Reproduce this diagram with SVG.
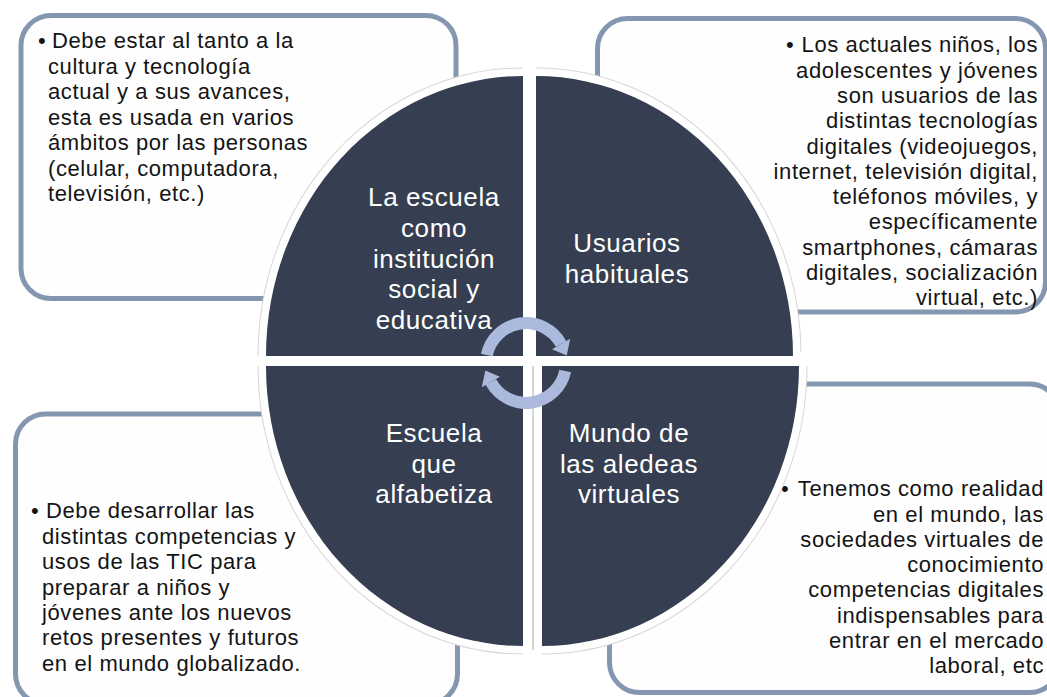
<svg xmlns="http://www.w3.org/2000/svg" width="1047" height="697" viewBox="0 0 1047 697">
<style>
.box{fill:#fefefe;stroke:#8597b0;stroke-width:5}
.halo-edge{fill:none;stroke:#d6d6d6;stroke-width:17}
.halo{fill:none;stroke:#ffffff;stroke-width:15}
.quad{fill:#353f51}
.body{font-family:"Liberation Sans",Arial,sans-serif;font-size:22px;letter-spacing:0.6px;fill:#141414}
.lbl{font-family:"Liberation Sans",Arial,sans-serif;font-size:26px;letter-spacing:0.6px;fill:#ffffff;text-anchor:middle}
.arc{fill:none;stroke:#abb9dd;stroke-width:12}
.head{fill:#abb9dd}
</style>
<rect width="1047" height="697" fill="#ffffff"/>

<g id="box-tl">
<rect class="box" x="21" y="15.5" width="435" height="283" rx="30"/>
<text class="body"><tspan x="38" y="48">•</tspan><tspan x="52" y="48">Debe estar al tanto a la</tspan><tspan x="48" y="73.5">cultura y tecnología</tspan><tspan x="48" y="99">actual y a sus avances,</tspan><tspan x="48" y="124.5">esta es usada en varios</tspan><tspan x="48" y="150">ámbitos por las personas</tspan><tspan x="48" y="175.5">(celular, computadora,</tspan><tspan x="48" y="201">televisión, etc.)</tspan></text>
</g>

<g id="box-tr">
<rect class="box" x="597.5" y="18.5" width="448" height="293.5" rx="30"/>
<text class="body"><tspan x="786" y="52">•</tspan></text>
<text class="body" text-anchor="end"><tspan x="1038" y="52">Los actuales niños, los</tspan><tspan x="1038" y="77.5">adolescentes y jóvenes</tspan><tspan x="1038" y="103">son usuarios de las</tspan><tspan x="1038" y="128">distintas tecnologías</tspan><tspan x="1038" y="153.5">digitales (videojuegos,</tspan><tspan x="1038" y="178.5">internet, televisión digital,</tspan><tspan x="1038" y="204">teléfonos móviles, y</tspan><tspan x="1038" y="229">específicamente</tspan><tspan x="1038" y="254.5">smartphones, cámaras</tspan><tspan x="1038" y="280">digitales, socialización</tspan><tspan x="1038" y="305">virtual, etc.)</tspan></text>
</g>

<g id="box-bl">
<rect class="box" x="15.5" y="414" width="442" height="290" rx="30"/>
<text class="body"><tspan x="31" y="518">•</tspan><tspan x="46" y="518">Debe desarrollar las</tspan><tspan x="42" y="543.5">distintas competencias y</tspan><tspan x="42" y="569">usos de las TIC para</tspan><tspan x="42" y="594.5">preparar a niños y</tspan><tspan x="42" y="620">jóvenes ante los nuevos</tspan><tspan x="42" y="645">retos presentes y futuros</tspan><tspan x="42" y="670.5">en el mundo globalizado.</tspan></text>
</g>

<g id="box-br">
<rect class="box" x="609.5" y="384" width="450" height="308.5" rx="30"/>
<text class="body"><tspan x="781" y="496">•</tspan></text>
<text class="body" text-anchor="end"><tspan x="1044" y="496">Tenemos como realidad</tspan><tspan x="1044" y="521.5">en el mundo, las</tspan><tspan x="1044" y="546.5">sociedades virtuales de</tspan><tspan x="1044" y="572">conocimiento</tspan><tspan x="1044" y="597">competencias digitales</tspan><tspan x="1044" y="622.5">indispensables para</tspan><tspan x="1044" y="647.5">entrar en el mercado</tspan><tspan x="1044" y="672.5">laboral, etc</tspan></text>
</g>

<g id="halo">
<path class="halo-edge" d="M266,356 A257,280 0 0 1 523,76"/>
<path class="halo-edge" d="M536,76 A257,280 0 0 1 793,356"/>
<path class="halo-edge" d="M523,646 A257,280 0 0 1 266,366"/>
<path class="halo-edge" d="M799,366 A257,280 0 0 1 542,646"/>
<path class="halo" d="M266,356 A257,280 0 0 1 523,76"/>
<path class="halo" d="M536,76 A257,280 0 0 1 793,356"/>
<path class="halo" d="M523,646 A257,280 0 0 1 266,366"/>
<path class="halo" d="M799,366 A257,280 0 0 1 542,646"/>
<rect x="262" y="352" width="540" height="18" fill="#ffffff"/>
<rect x="519" y="70" width="27" height="580" fill="#ffffff"/>
<line x1="533" y1="366" x2="533" y2="650" stroke="#c9c9c9" stroke-width="1.5"/>
</g>

<g id="q-tl">
<path class="quad" d="M523,356 L266,356 A257,280 0 0 1 523,76 Z"/>
<text class="lbl"><tspan x="434" y="205.5">La escuela</tspan><tspan x="434" y="236.5">como</tspan><tspan x="434" y="267.5">institución</tspan><tspan x="434" y="298">social y</tspan><tspan x="434" y="328.5">educativa</tspan></text>
</g>
<g id="q-tr">
<path class="quad" d="M536,356 L536,76 A257,280 0 0 1 793,356 Z"/>
<text class="lbl"><tspan x="627" y="252">Usuarios</tspan><tspan x="627" y="283">habituales</tspan></text>
</g>
<g id="q-bl">
<path class="quad" d="M523,366 L523,646 A257,280 0 0 1 266,366 Z"/>
<text class="lbl"><tspan x="434" y="442">Escuela</tspan><tspan x="434" y="473">que</tspan><tspan x="434" y="503">alfabetiza</tspan></text>
</g>
<g id="q-br">
<path class="quad" d="M542,366 L799,366 A257,280 0 0 1 542,646 Z"/>
<text class="lbl"><tspan x="629" y="442">Mundo de</tspan><tspan x="629" y="473">las aledeas</tspan><tspan x="629" y="503">virtuales</tspan></text>
</g>

<g id="connectors">
<path class="arc" d="M486.8,355 A40,40 0 0 1 561.1,344"/>
<polygon class="head" points="552,349.3 570.2,338.7 566.7,355.5"/>
<path class="arc" d="M565.2,371 A40,40 0 0 1 490.9,382"/>
<polygon class="head" points="500,376.7 481.8,387.3 485.3,370.5"/>
</g>
</svg>
